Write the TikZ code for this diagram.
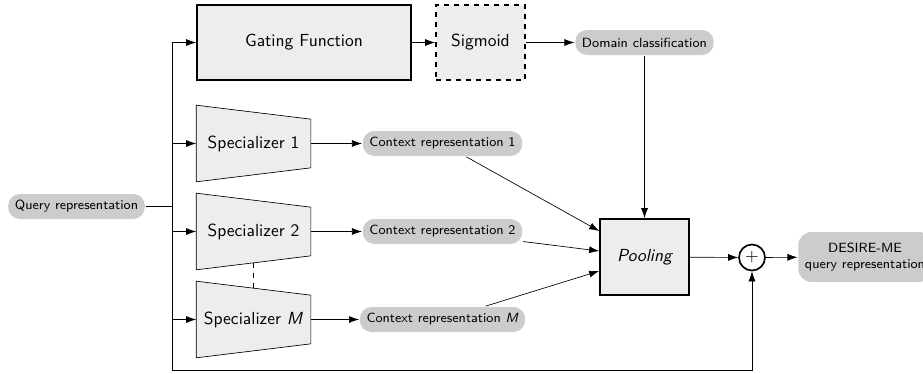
\documentclass[tikz,border=0pt]{standalone}
\usetikzlibrary{arrows.meta,calc,backgrounds}

\tikzset{%
  box/.style={draw, fill=black!7, inner sep=0pt},
  pill/.style={fill=black!20, rounded corners=7pt, font=\sffamily\footnotesize, minimum height=15pt, inner xsep=4pt},
  spec/.style={inner sep=0pt, minimum width=67.8pt, minimum height=45pt},
  trap/.style={draw, fill=black!7, line join=miter},
  line/.style={draw, -{Latex[length=6pt,width=4.2pt]}},
}

\begin{document}
\begin{tikzpicture}[x=0.6pt, y=-0.6pt, font=\sffamily\fontsize{10.5pt}{12pt}\selectfont, line width=1pt]
\useasboundingbox (0,0) rectangle (923,373);
\node[pill] (1) at (76.5,206.5) {Query representation};
\node[box, minimum width=128.4pt, minimum height=45pt] (2) at (304,42.5) {Gating Function};
\node[box, dashed, minimum width=53.4pt, minimum height=45pt] (3) at (480.5,42.5) {Sigmoid};
\node[pill] (4) at (644.5,42.5) {Domain classification};
\node[spec] (5) at (253.5,143.5) {Specializer 1};
\node[spec] (6) at (253.5,231.5) {Specializer 2};
\node[spec] (7) at (253.5,319.5) {Specializer \textit{M}};
\node[pill] (8) at (442.5,143.5) {Context representation 1};
\node[pill] (9) at (442.5,231.5) {Context representation 2};
\node[pill] (10) at (442.5,319.5) {Context representation \textit{M}};
\node[box, minimum width=53.4pt, minimum height=45.6pt] (11) at (644.5,257) {\itshape Pooling};
\node[draw, circle, minimum size=15.6pt, inner sep=0pt] (12) at (752,257.5) {+};
\node[pill, align=center, minimum height=30pt, rounded corners=8pt] (13) at (865,257) {DESIRE-ME\\query representation};
\coordinate (top) at (172,42.5);
\coordinate (bot) at (172,370);

\begin{pgfonlayer}{background}
\foreach \n in {5,6,7}
  \draw[trap] (\n.north west) -- ($(\n.north east)+(0,14)$) -- ($(\n.south east)+(0,-14)$) -- (\n.south west) -- cycle;
\end{pgfonlayer}

\draw (1.east) -- (1.east -| top);
\draw[line] (top) -- (2);
\draw[line] (top) -- (bot) -| (12);
\foreach \n in {5,6,7}
  \draw[line] (\n.west -| top) -- (\n.west);
\draw[line] (5.east) -- (8);
\draw[line] (6.east) -- (9);
\draw[line] (7.east) -- (10);
\draw[dashed] ($(6.south)+(0,-7)$) -- ($(7.north)+(0,7)$);
\draw[line] (2) -- (3);
\draw[line] (3) -- (4);
\draw[line] (4) -- (11);
\draw[line] (8) -- ($(11.west)+(0,-26)$);
\draw[line] (9) -- ($(11.west)+(0,-6)$);
\draw[line] (10) -- ($(11.west)+(0,14)$);
\draw[line] (11) -- (12);
\draw[line] (12) -- (13);
\end{tikzpicture}
\end{document}
